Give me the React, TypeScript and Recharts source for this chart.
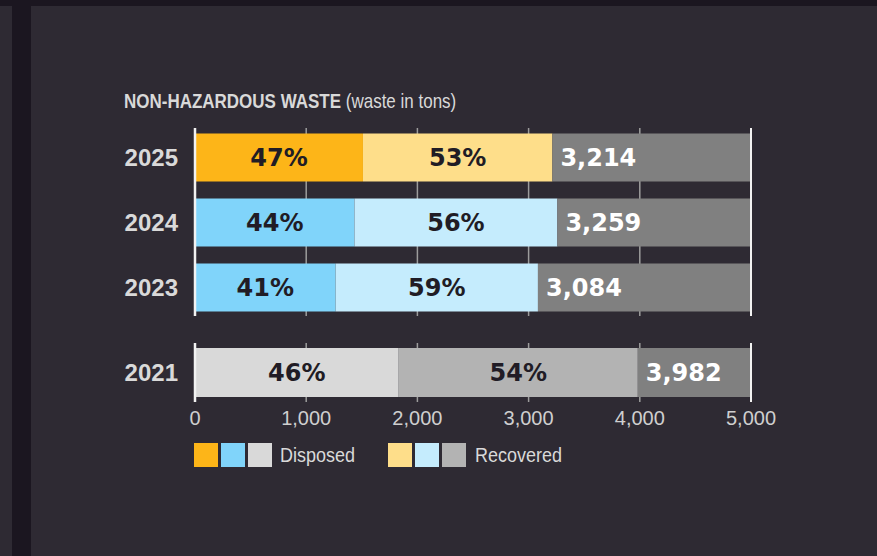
import {
  BarChart,
  Bar,
  XAxis,
  YAxis,
  CartesianGrid,
  ReferenceLine,
  LabelList,
  Cell,
} from 'recharts';

// recent years (upper block)
const years = ['2025', '2024', '2023'];
const totals = [3214, 3259, 3084];
const disposedShare = [47, 44, 41];

// baseline year (lower block)
const baseYears = ['2021'];
const baseTotals = [3982];
const baseDisposedShare = [46];

const xTicks = [0, 1000, 2000, 3000, 4000, 5000];
const AXIS_MAX = 5000;

const disposedColors = ['#fdb518', '#80d4fa', '#80d4fa'];
const recoveredColors = ['#fede8a', '#c5ecfd', '#c5ecfd'];
const baseDisposedColors = ['#d9d9d9'];
const baseRecoveredColors = ['#b3b3b3'];
const REST = '#808080';

const BG = '#2e2a33';
const DARK = '#1b1620';
const TEXT = '#d9d9d9';
const SANS = '"Liberation Sans", Arial, sans-serif';
const HEAVY = '"DejaVu Sans", "Liberation Sans", sans-serif';

function buildRows(labels: string[], tot: number[], share: number[]) {
  return labels.map((year, i) => {
    const disposed = (tot[i] * share[i]) / 100;
    return {
      year,
      disposed,
      recovered: tot[i] - disposed,
      rest: AXIS_MAX - tot[i],
      dLabel: `${share[i]}%`,
      rLabel: `${100 - share[i]}%`,
      tLabel: tot[i].toLocaleString('en-US'),
    };
  });
}

const recentRows = buildRows(years, totals, disposedShare);
const baseRows = buildRows(baseYears, baseTotals, baseDisposedShare);

const pctLabel = {
  fill: '#211c25',
  fontSize: 24,
  fontWeight: 700,
  fontFamily: HEAVY,
};

function Segments({ dColors, rColors }: { dColors: string[]; rColors: string[] }) {
  return (
    <>
      <Bar dataKey="disposed" stackId="w" isAnimationActive={false}>
        {dColors.map((c, i) => (
          <Cell key={i} fill={c} />
        ))}
        <LabelList dataKey="dLabel" position="center" {...pctLabel} />
      </Bar>
      <Bar dataKey="recovered" stackId="w" isAnimationActive={false}>
        {rColors.map((c, i) => (
          <Cell key={i} fill={c} />
        ))}
        <LabelList dataKey="rLabel" position="center" {...pctLabel} />
      </Bar>
      <Bar dataKey="rest" stackId="w" fill={REST} isAnimationActive={false}>
        <LabelList
          dataKey="tLabel"
          position="insideLeft"
          offset={8}
          {...pctLabel}
          fill="#ffffff"
        />
      </Bar>
    </>
  );
}

const yTick = { fill: TEXT, fontSize: 24, fontWeight: 700, fontFamily: SANS };

export default function App() {
  return (
    <div
      style={{
        position: 'absolute',
        left: 0,
        top: 0,
        width: 877,
        height: 556,
        background: BG,
        overflow: 'hidden',
      }}
    >
      <div style={{ position: 'absolute', left: 0, top: 0, width: 877, height: 6, background: DARK }} />
      <div style={{ position: 'absolute', left: 12, top: 0, width: 19, height: 556, background: DARK }} />

      <svg width={877} height={556} style={{ position: 'absolute', left: 0, top: 0 }}>
        {/* condensed look: squeeze horizontally */}
        <text
          transform="translate(124,108) scale(0.85,1)"
          fill={TEXT}
          fontSize={20}
          fontFamily={SANS}
          fontWeight={700}
        >
          NON-HAZARDOUS WASTE{' '}
          <tspan fontWeight={400}>(waste in tons)</tspan>
        </text>
        <rect x={194} y={443} width={24} height={24} fill={disposedColors[0]} />
        <rect x={221} y={443} width={24} height={24} fill={disposedColors[1]} />
        <rect x={248} y={443} width={24} height={24} fill={baseDisposedColors[0]} />
        <text transform="translate(280,462) scale(0.9,1)" fill={TEXT} fontSize={20} fontFamily={SANS}>
          Disposed
        </text>
        <rect x={388} y={443} width={24} height={24} fill={recoveredColors[0]} />
        <rect x={415} y={443} width={24} height={24} fill={recoveredColors[1]} />
        <rect x={442} y={443} width={24} height={24} fill={baseRecoveredColors[0]} />
        <text transform="translate(475,462) scale(0.9,1)" fill={TEXT} fontSize={20} fontFamily={SANS}>
          Recovered
        </text>
      </svg>

      <div style={{ position: 'absolute', left: 0, top: 128 }}>
        <BarChart
          width={877}
          height={188}
          data={recentRows}
          layout="vertical"
          margin={{ top: 0, right: 126, bottom: 0, left: 0 }}
          barSize={48}
        >
          <CartesianGrid horizontal={false} stroke="#9c9c9c" strokeWidth={1.5} />
          <XAxis type="number" domain={[0, AXIS_MAX]} ticks={xTicks} hide />
          <YAxis
            type="category"
            dataKey="year"
            width={195}
            padding={{ top: -3.5, bottom: -3.5 }}
            tickSize={0}
            tickMargin={17}
            tick={yTick}
            axisLine={{ stroke: '#f2f2f2', strokeWidth: 2.5 }}
          />
          <ReferenceLine x={AXIS_MAX} stroke="#f2f2f2" strokeWidth={2} />
          {Segments({ dColors: disposedColors, rColors: recoveredColors })}
        </BarChart>
      </div>

      <div style={{ position: 'absolute', left: 0, top: 343 }}>
        <BarChart
          width={877}
          height={99}
          data={baseRows}
          layout="vertical"
          margin={{ top: 0, right: 126, bottom: 0, left: 0 }}
          barSize={49}
        >
          <CartesianGrid horizontal={false} stroke="#9c9c9c" strokeWidth={1.5} />
          <XAxis
            type="number"
            domain={[0, AXIS_MAX]}
            ticks={xTicks}
            height={40}
            tickSize={0}
            tickMargin={9}
            axisLine={false}
            tickFormatter={(v: number) => v.toLocaleString('en-US')}
            tick={{ fill: '#cfcfcf', fontSize: 20, fontFamily: SANS }}
            interval={0}
          />
          <YAxis
            type="category"
            dataKey="year"
            width={195}
            tickSize={0}
            tickMargin={17}
            tick={yTick}
            axisLine={{ stroke: '#f2f2f2', strokeWidth: 2.5 }}
          />
          <ReferenceLine x={AXIS_MAX} stroke="#f2f2f2" strokeWidth={2} />
          {Segments({ dColors: baseDisposedColors, rColors: baseRecoveredColors })}
        </BarChart>
      </div>
    </div>
  );
}
